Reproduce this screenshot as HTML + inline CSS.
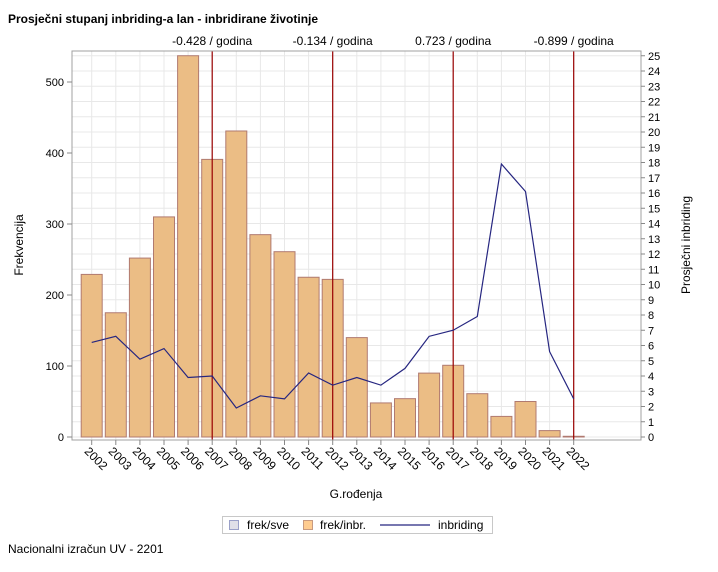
<!DOCTYPE html>
<html><head><meta charset="utf-8"><style>
body{margin:0;background:#fff;font-family:"Liberation Sans",sans-serif;}
svg text{font-family:"Liberation Sans",sans-serif;}
</style></head><body>
<svg width="718" height="567" xmlns="http://www.w3.org/2000/svg">
<text x="8" y="23" font-size="12" font-weight="bold">Prosječni stupanj inbriding-a lan - inbridirane životinje</text>
<g id="grid"></g>
<g id="bars"></g>
<g id="refs"></g>
<polyline id="line" fill="none" stroke="#262680" stroke-width="1.2"/>
<rect x="72" y="51" width="569" height="389" fill="none" stroke="#a0a0a0"/>
<g id="axes"></g>
<text x="23" y="245" font-size="12" transform="rotate(-90 23 245)" text-anchor="middle">Frekvencija</text>
<text x="690" y="245" font-size="12" transform="rotate(-90 690 245)" text-anchor="middle">Prosječni inbriding</text>
<text x="356" y="498" font-size="12" text-anchor="middle">G.rođenja</text>
<g>
<rect x="222.5" y="516.5" width="270" height="17" fill="#fff" stroke="#c8c8c8"/>
<rect x="229.5" y="520.5" width="9" height="9" fill="#e0e0e8" stroke="#9aa0c8"/>
<text x="247" y="529" font-size="12">frek/sve</text>
<rect x="303.5" y="520.5" width="9" height="9" fill="#ffcc90" stroke="#c89a80"/>
<text x="320" y="529" font-size="12">frek/inbr.</text>
<line x1="380" y1="525" x2="430" y2="525" stroke="#262680" stroke-width="1.2"/>
<text x="438" y="529" font-size="12">inbriding</text>
</g>
<text x="8" y="553" font-size="12">Nacionalni izračun UV - 2201</text>
</svg>
<script>
const categories=["2002","2003","2004","2005","2006","2007","2008","2009","2010","2011","2012","2013","2014","2015","2016","2017","2018","2019","2020","2021","2022"];
const freqValues=[229,175,252,310,537,391,431,285,261,225,222,140,48,54,90,101,61,29,50,9,1];
const inbValues=[6.2,6.6,5.1,5.8,3.9,4.0,1.9,2.7,2.5,4.2,3.4,3.9,3.4,4.5,6.6,7.0,7.9,17.9,16.1,5.6,2.5];
const refYears=["2007","2012","2017","2022"];
const refLabels=["-0.428 / godina","-0.134 / godina","0.723 / godina","-0.899 / godina"];
const leftTicks=[0,100,200,300,400,500];
const rightTicks=[0,1,2,3,4,5,6,7,8,9,10,11,12,13,14,15,16,17,18,19,20,21,22,23,24,25];
const NS="http://www.w3.org/2000/svg";
const x0=91.7,dx=24.1,base=437;
function xs(i){return x0+i*dx;}
function yL(v){return base-v*0.71;}
function yR(v){return base-v*15.25;}
function mk(p,t,a){const e=document.createElementNS(NS,t);for(const k in a)e.setAttribute(k,a[k]);p.appendChild(e);return e;}
const grid=document.getElementById('grid'),bars=document.getElementById('bars'),refs=document.getElementById('refs'),axes=document.getElementById('axes');
rightTicks.forEach(v=>{const l=mk(grid,'line',{x1:72,x2:641,y1:yR(v),y2:yR(v),stroke:'#e8e8e8'});


const t=mk(axes,'line',{x1:641,x2:645,y1:yR(v),y2:yR(v),stroke:'#888'});
const tx=mk(axes,'text',{x:648,y:yR(v)+4,'font-size':11});tx.textContent=v;

});
categories.forEach((c,i)=>{const l=mk(grid,'line',{x1:xs(i),x2:xs(i),y1:51,y2:440,stroke:'#e8e8e8'});


const b=mk(bars,'rect',{x:xs(i)-10.5,y:yL(freqValues[i]),width:21,height:freqValues[i]*0.71,fill:'#ebbd85',stroke:'#b07a70'});


mk(axes,'line',{x1:xs(i),x2:xs(i),y1:440,y2:445,stroke:'#888'});
const t=mk(axes,'text',{x:xs(i)-8,y:452,'font-size':12,transform:'rotate(45 '+(xs(i)-8)+' 452)'});t.textContent=c;

});
leftTicks.forEach(v=>{mk(axes,'line',{x1:67,x2:72,y1:yL(v),y2:yL(v),stroke:'#888'});
const t=mk(axes,'text',{x:64,y:yL(v)+4,'font-size':11,'text-anchor':'end'});t.textContent=v;

});
refYears.forEach((y,k)=>{const i=categories.indexOf(y);
const l=mk(refs,'line',{x1:xs(i),x2:xs(i),y1:51,y2:440,stroke:'#990000','stroke-width':1.2});


const t=mk(refs,'text',{x:xs(i),y:45,'font-size':12,'text-anchor':'middle'});t.textContent=refLabels[k];

});
document.getElementById('line').setAttribute('points',inbValues.map((v,i)=>xs(i)+','+yR(v)).join(' '));
</script>
</body></html>
